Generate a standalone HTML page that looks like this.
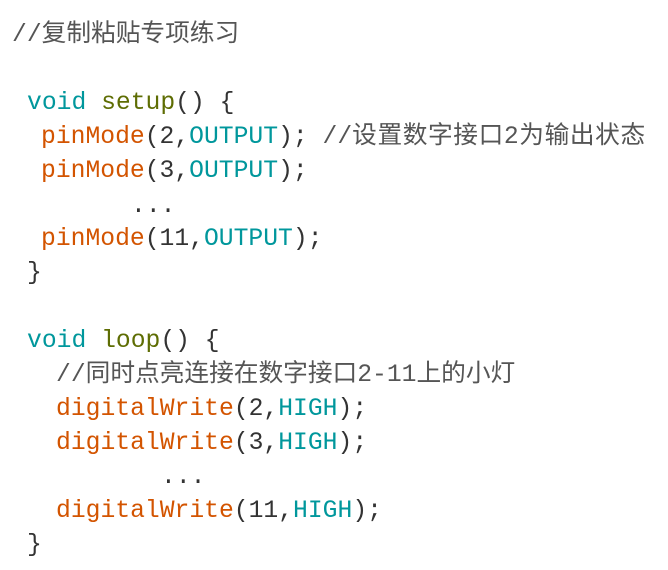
<!DOCTYPE html>
<html><head><meta charset="utf-8"><style>
body{margin:0;width:668px;height:570px;background:#fff;position:relative;overflow:hidden;
font-family:"Liberation Mono","Noto Sans CJK SC",monospace;font-size:24.7px;color:#333;}
.l{position:absolute;white-space:pre;line-height:34px;}
.c{color:#555;}
.z{letter-spacing:0.6px;}
.k{color:#00979c}.f{color:#5e6d03}.o{color:#d35400}
</style></head><body>
<div class="l c" style="left:12px;top:18px">//<span>复制粘贴专项练习</span></div>
<div class="l" style="left:27px;top:86px"><span class="k">void</span> <span class="f">setup</span>() {</div>
<div class="l" style="left:41px;top:120px"><span class="o">pinMode</span>(2,<span class="k">OUTPUT</span>); <span class="c">//<span class="z">设置数字接口2为输出状态</span></span></div>
<div class="l" style="left:41px;top:154px"><span class="o">pinMode</span>(3,<span class="k">OUTPUT</span>);</div>
<div class="l" style="left:131px;top:189px">...</div>
<div class="l" style="left:41px;top:222px"><span class="o">pinMode</span>(11,<span class="k">OUTPUT</span>);</div>
<div class="l" style="left:27px;top:256px">}</div>
<div class="l" style="left:27px;top:324px"><span class="k">void</span> <span class="f">loop</span>() {</div>
<div class="l c" style="left:56px;top:358px">//<span>同时点亮连接在数字接口</span>2-11<span>上的小灯</span></div>
<div class="l" style="left:56px;top:392px"><span class="o">digitalWrite</span>(2,<span class="k">HIGH</span>);</div>
<div class="l" style="left:56px;top:426px"><span class="o">digitalWrite</span>(3,<span class="k">HIGH</span>);</div>
<div class="l" style="left:161px;top:460px">...</div>
<div class="l" style="left:56px;top:494px"><span class="o">digitalWrite</span>(11,<span class="k">HIGH</span>);</div>
<div class="l" style="left:27px;top:528px">}</div>
</body></html>
